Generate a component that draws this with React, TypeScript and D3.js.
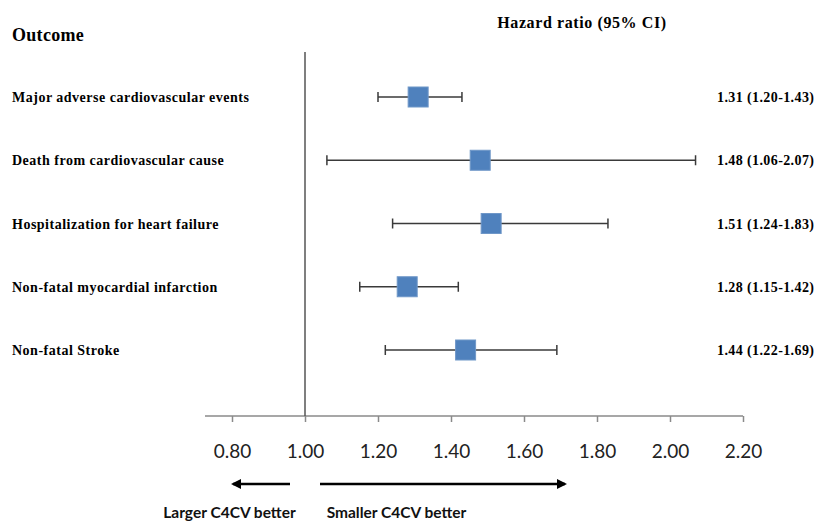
import React, { useEffect, useRef } from 'react';
import * as d3 from 'd3';

const outcomes = [
  'Major adverse cardiovascular events',
  'Death from cardiovascular cause',
  'Hospitalization for heart failure',
  'Non-fatal myocardial infarction',
  'Non-fatal Stroke',
];
const hazardRatio = [1.31, 1.48, 1.51, 1.28, 1.44];
const ciLower = [1.2, 1.06, 1.24, 1.15, 1.22];
const ciUpper = [1.43, 2.07, 1.83, 1.42, 1.69];
const axisTicks = [0.8, 1.0, 1.2, 1.4, 1.6, 1.8, 2.0, 2.2];

const W = 817;
const H = 521;

const App: React.FC = () => {
  const ref = useRef<SVGSVGElement | null>(null);

  useEffect(() => {
    if (!ref.current) return;
    const svg = d3.select(ref.current);
    svg.selectAll('*').remove();

    const x = d3.scaleLinear().domain([1.0, 2.2]).range([305, 743]);
    const y = d3.scalePoint<string>().domain(outcomes).range([97, 350]);
    const serif = "'Liberation Serif', 'DejaVu Serif', serif";
    const sans = "Lato, 'Noto Sans', sans-serif";

    const rows = outcomes.map((name, i) => ({
      name,
      hr: hazardRatio[i],
      lo: ciLower[i],
      hi: ciUpper[i],
    }));

    // headers
    svg.append('text')
      .attr('x', 12).attr('y', 41)
      .style('font-family', serif).style('font-weight', 'bold').style('font-size', '18px')
      .style('letter-spacing', '0.3px')
      .text('Outcome');
    svg.append('text')
      .attr('x', 582).attr('y', 28).attr('text-anchor', 'middle')
      .style('font-family', serif).style('font-weight', 'bold').style('font-size', '16px')
      .style('letter-spacing', '0.6px')
      .text('Hazard ratio (95% CI)');

    // x axis
    const axis = svg.append('g')
      .attr('transform', 'translate(0,416)')
      .call(d3.axisBottom(x).tickValues(axisTicks).tickSize(6).tickSizeOuter(0).tickFormat(d3.format('.2f')));
    axis.select('.domain').remove();
    axis.append('line')
      .attr('x1', x(0.726)).attr('x2', x(2.2))
      .attr('stroke', '#8a8a8a').attr('stroke-width', 1.5);
    axis.selectAll('.tick line').attr('stroke', '#8a8a8a').attr('stroke-width', 1.5);
    axis.selectAll('.tick text')
      .attr('y', 29)
      .attr('fill', '#222')
      .style('font-family', sans)
      .style('font-size', '19px');

    // line of no effect
    svg.append('line')
      .attr('x1', x(1)).attr('x2', x(1))
      .attr('y1', 52).attr('y2', 416)
      .attr('stroke', '#555').attr('stroke-width', 1.5);

    // row labels
    svg.selectAll('text.label')
      .data(rows)
      .join('text')
      .attr('class', 'label')
      .attr('x', 12)
      .attr('y', d => (y(d.name) ?? 0) + 5)
      .style('font-family', serif).style('font-weight', 'bold').style('font-size', '14px')
      .style('letter-spacing', '0.5px')
      .text(d => d.name);

    // CI whiskers
    const g = svg.append('g').attr('stroke', '#3a3a3a').attr('stroke-width', 1.5);
    rows.forEach(d => {
      const cy = y(d.name) ?? 0;
      g.append('line').attr('x1', x(d.lo)).attr('x2', x(d.hi)).attr('y1', cy).attr('y2', cy);
      g.append('line').attr('x1', x(d.lo)).attr('x2', x(d.lo)).attr('y1', cy - 5).attr('y2', cy + 5);
      g.append('line').attr('x1', x(d.hi)).attr('x2', x(d.hi)).attr('y1', cy - 5).attr('y2', cy + 5);
    });

    // point estimates
    const s = 20;
    svg.selectAll('rect.hr')
      .data(rows)
      .join('rect')
      .attr('class', 'hr')
      .attr('x', d => x(d.hr) - s / 2)
      .attr('y', d => (y(d.name) ?? 0) - s / 2)
      .attr('width', s).attr('height', s)
      .attr('fill', '#4f81bd')
      .attr('stroke', '#6f97c8').attr('stroke-width', 1);

    // estimate text
    svg.selectAll('text.est')
      .data(rows)
      .join('text')
      .attr('class', 'est')
      .attr('x', 717)
      .attr('y', d => (y(d.name) ?? 0) + 5)
      .style('font-family', serif).style('font-weight', 'bold').style('font-size', '14px')
      .style('letter-spacing', '0.4px')
      .text(d => `${d.hr.toFixed(2)} (${d.lo.toFixed(2)}-${d.hi.toFixed(2)})`);

    // direction arrows
    const defs = svg.append('defs');
    defs.append('marker')
      .attr('id', 'arrowhead')
      .attr('viewBox', '0 0 10 10')
      .attr('refX', 8).attr('refY', 5)
      .attr('markerWidth', 4).attr('markerHeight', 4)
      .attr('orient', 'auto-start-reverse')
      .append('path').attr('d', 'M0,0 L10,5 L0,10 Z').attr('fill', '#000');

    svg.append('line')
      .attr('x1', 290).attr('x2', 233).attr('y1', 484).attr('y2', 484)
      .attr('stroke', '#000').attr('stroke-width', 2.5)
      .attr('marker-end', 'url(#arrowhead)');
    svg.append('line')
      .attr('x1', 320).attr('x2', 565).attr('y1', 484).attr('y2', 484)
      .attr('stroke', '#000').attr('stroke-width', 2.5)
      .attr('marker-end', 'url(#arrowhead)');

    svg.append('text')
      .attr('x', 229.5).attr('y', 518).attr('text-anchor', 'middle')
      .style('font-family', sans).style('font-weight', 'bold').style('font-size', '15.5px')
      .attr('fill', '#111')
      .text('Larger C4CV better');
    svg.append('text')
      .attr('x', 396.5).attr('y', 518).attr('text-anchor', 'middle')
      .style('font-family', sans).style('font-weight', 'bold').style('font-size', '15.5px')
      .attr('fill', '#111')
      .text('Smaller C4CV better');
  }, []);

  return (
    <svg
      ref={ref}
      width={W}
      height={H}
      style={{ position: 'absolute', left: 0, top: 0, background: '#fff' }}
    />
  );
};

export default App;
